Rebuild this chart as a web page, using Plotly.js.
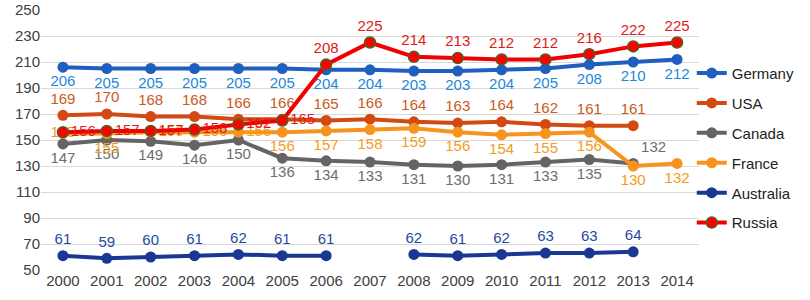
<!DOCTYPE html>
<html>
<head>
<meta charset="utf-8">
<script src="https://cdn.plot.ly/plotly-3.0.1.min.js"></script>
<style>html,body{margin:0;padding:0;background:#fff;}#chart{width:810px;height:300px;}</style>
</head>
<body>
<div id="chart"></div>
<script>
const years = ['2000','2001','2002','2003','2004','2005','2006','2007','2008','2009','2010','2011','2012','2013','2014'];
const germany   = [206,205,205,205,205,205,204,204,203,203,204,205,208,210,212];
const usa       = [169,170,168,168,166,166,165,166,164,163,164,162,161,161,null];
const canada    = [147,150,149,146,150,136,134,133,131,130,131,133,135,132,null];
const france    = [155,155,156,156,156,156,157,158,159,156,154,155,156,130,132];
const australia = [61,59,60,61,62,61,61,null,62,61,62,63,63,64,null];
const russia    = [156,157,157,158,162,165,208,225,214,213,212,212,216,222,225];

const FONT = 'Liberation Sans, Arial, sans-serif';

function labels(arr){ return arr.map(v => v === null ? '' : String(v)); }

function series(name, y, lineColor, labelColor, textpos, marker){
  return {
    type: 'scatter', mode: 'lines+markers+text', name: name,
    x: years, y: y, text: labels(y), textposition: textpos,
    textfont: {family: FONT, size: 15, color: labelColor},
    line: {color: lineColor, width: 4},
    marker: marker || {color: lineColor, size: 11},
    connectgaps: false, cliponaxis: false, hoverinfo: 'skip',
    legendgroup: name
  };
}

const frPos = years.map((_, i) => i === 0 ? 'middle center' : (i === 1 ? 'bottom center' : (i <= 4 ? 'middle right' : 'bottom center')));
const caPos = years.map((_, i) => i === 13 ? 'top right' : 'bottom center');
const ruPos = years.map((_, i) => i <= 5 ? 'middle right' : 'top center');

const data = [
  series('Germany', germany, '#1F5FBF', '#1E88D8', 'bottom center'),
  series('USA', usa, '#D24A12', '#C95A22', 'top center'),
  series('Canada', canada, '#646464', '#6E6E6E', caPos),
  series('France', france, '#F7941D', '#F39C1C', frPos),
  series('Australia', australia, '#1A3794', '#1F4A9E', 'top center'),
  series('Russia', russia, '#F00000', '#E01A1A', ruPos, {color: '#FF0000', size: 11, line: {color: '#4F6228', width: 1.5}})
];

const layout = {
  width: 810, height: 300,
  margin: {l: 41, r: 85, t: 10, b: 30},
  paper_bgcolor: '#fff', plot_bgcolor: '#fff',
  font: {family: FONT, size: 15, color: '#404040'},
  showlegend: true,
  legend: {
    x: 0.989, xanchor: 'left', y: 0.82, yanchor: 'top',
    font: {family: FONT, size: 15, color: '#222'},
    bgcolor: 'rgba(0,0,0,0)', tracegroupgap: 7.4, traceorder: 'grouped',
    itemwidth: 30, borderwidth: 0
  },
  xaxis: {
    type: 'category', range: [-0.5, 14.5], showgrid: false, zeroline: false,
    showline: false, ticks: '', tickfont: {family: FONT, size: 15, color: '#404040'}, fixedrange: true
  },
  yaxis: {
    range: [50, 250], tick0: 50, dtick: 20, showgrid: true, gridcolor: '#D9D9D9', gridwidth: 1,
    zeroline: false, showline: false, ticks: '', tickfont: {family: FONT, size: 15, color: '#404040'},
    fixedrange: true
  },
  hovermode: false
};

Plotly.newPlot('chart', data, layout, {displayModeBar: false, staticPlot: true});
</script>
</body>
</html>
